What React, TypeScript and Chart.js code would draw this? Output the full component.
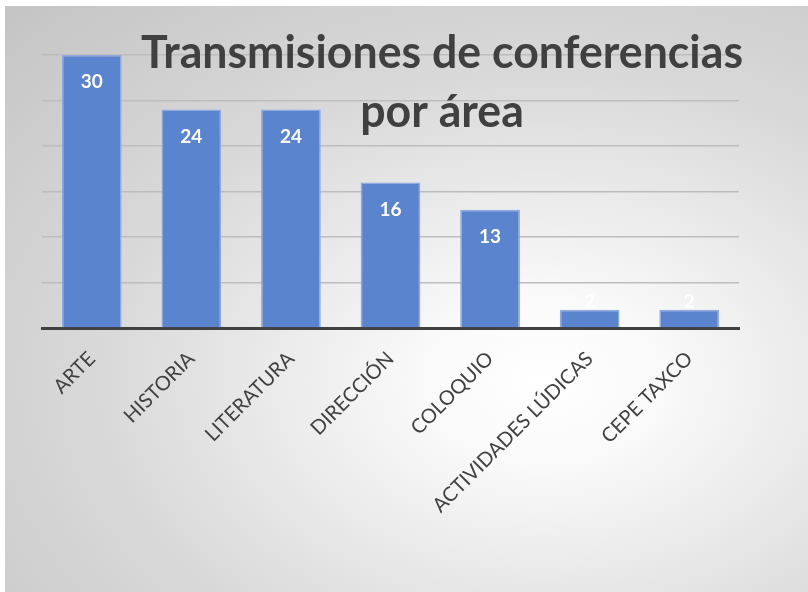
import { useEffect, useRef } from "react";
import { Chart, registerables } from "chart.js";
Chart.register(...registerables);

const categories = [
  "ARTE",
  "HISTORIA",
  "LITERATURA",
  "DIRECCIÓN",
  "COLOQUIO",
  "ACTIVIDADES LÚDICAS",
  "CEPE TAXCO",
];
const values = [30, 24, 24, 16, 13, 2, 2];
const titleLines = ["Transmisiones de conferencias", "por área"];
const yMin = 0;
const yMax = 30;
const yStep = 5;

const titlePlugin = {
  id: "overlayTitle",
  afterDraw(chart: any) {
    const ctx = chart.ctx;
    ctx.save();
    ctx.fillStyle = "#404040";
    ctx.textAlign = "center";
    ctx.textBaseline = "alphabetic";
    ctx.font = "bold 46px Lato";
    const cx = 437;
    const targetW = 602;
    const w0 = ctx.measureText(titleLines[0]).width;
    const sx = w0 > 0 ? targetW / w0 : 1;
    const baselines = [62, 121];
    titleLines.forEach((line, i) => {
      ctx.save();
      ctx.translate(cx, baselines[i]);
      ctx.scale(sx, 1);
      ctx.fillText(line, 0, 0);
      ctx.restore();
    });
    ctx.restore();
  },
};

const labelPlugin = {
  id: "barLabels",
  afterDatasetsDraw(chart: any) {
    const ctx = chart.ctx;
    const meta = chart.getDatasetMeta(0);
    ctx.save();
    ctx.fillStyle = "#ffffff";
    ctx.font = "bold 19px Lato";
    ctx.textAlign = "center";
    ctx.textBaseline = "middle";
    meta.data.forEach((bar: any, i: number) => {
      const h = bar.base - bar.y;
      const y = h > 45 ? bar.y + 27 : bar.y - 8;
      ctx.fillText(String(values[i]), bar.x, y);
    });
    ctx.restore();
  },
};

export default function App() {
  const ref = useRef<HTMLCanvasElement | null>(null);
  useEffect(() => {
    if (!ref.current) return;
    const chart = new Chart(ref.current, {
      type: "bar",
      data: {
        labels: categories,
        datasets: [
          {
            data: values,
            backgroundColor: "#5b84cf",
            borderColor: "#8eaade",
            borderWidth: 1.5,
            barPercentage: 0.6,
            categoryPercentage: 1,
          },
        ],
      },
      options: {
        animation: false,
        responsive: true,
        maintainAspectRatio: false,
        layout: { padding: { top: 49, right: 69, left: 0, bottom: 0 } },
        plugins: {
          legend: { display: false },
          title: { display: false },
          tooltip: { enabled: false },
        },
        scales: {
          x: {
            grid: { display: false },
            border: { display: true, color: "#404040", width: 3 },
            ticks: {
              color: "#404040",
              font: { family: "Lato", size: 20 },
              minRotation: 45,
              maxRotation: 45,
              padding: 11,
            },
            afterFit(scale: any) {
              scale.height = 264;
            },
          },
          y: {
            min: yMin,
            max: yMax,
            ticks: { display: false, stepSize: yStep },
            border: { display: false },
            grid: {
              drawTicks: false,
              color: (c: any) => (c.tick && c.tick.value === 0 ? "rgba(0,0,0,0)" : "#bdbdbd"),
              lineWidth: 1.5,
            },
            afterFit(scale: any) {
              scale.width = 37;
            },
          },
        },
      },
      plugins: [labelPlugin, titlePlugin],
    });
    return () => chart.destroy();
  }, []);
  return (
    <div
      style={{
        position: "fixed",
        left: 5,
        top: 6,
        width: 803,
        height: 586,
        background:
          "radial-gradient(ellipse farthest-corner at 67% 64%, #ffffff 0%, #fafafa 15%, #d9d9d9 58%, #c4c4c4 100%)",
      }}
    >
      <canvas ref={ref} />
    </div>
  );
}
